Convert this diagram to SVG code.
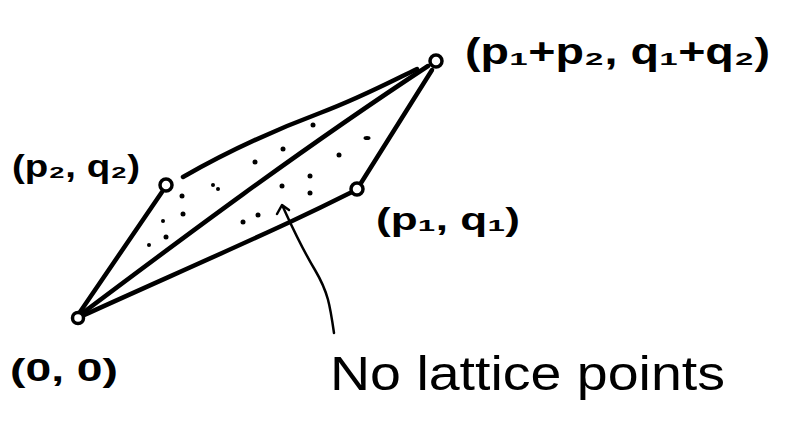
<svg xmlns="http://www.w3.org/2000/svg" width="785" height="438" viewBox="0 0 785 438">
<style>
.edge{fill:none;stroke:#000;stroke-width:4.5;stroke-linecap:round;stroke-linejoin:round}
.ptr{fill:none;stroke:#000;stroke-width:2.5;stroke-linecap:round;stroke-linejoin:round}
.node{fill:#fff;stroke:#000;stroke-width:3.5}
.dot{fill:#000}
.lbl{font-family:"Liberation Sans",Arial,sans-serif;font-weight:bold;fill:#000}
.big{font-family:"Liberation Sans",Arial,sans-serif;fill:#000}
</style>
<rect width="785" height="438" fill="#fff"/>
<g id="connectors">
  <path class="edge" d="M80,312 L162,192"/>
  <path class="edge" d="M80,315 C180,240 300,150 428,66"/>
  <path class="edge" d="M82,316 C150,285 230,250 290,222 C320,208 340,198 352,192"/>
  <path class="edge" d="M183,177 C230,150 280,128 320,113 C360,98 390,82 417,69"/>
  <path class="edge" d="M361,183 L432,70"/>
  <path class="ptr" d="M283,207 C290,222 300,245 315,270 C328,292 330,305 334,333"/>
  <path class="ptr" d="M277,214 L282,205 L289,210"/>
</g>
<g id="dots">
  <circle class="dot" cx="313" cy="125" r="2.5"/>
  <ellipse class="dot" cx="367" cy="138" rx="3.5" ry="2"/>
  <circle class="dot" cx="283" cy="149" r="2.5"/>
  <circle class="dot" cx="255" cy="162" r="2.5"/>
  <circle class="dot" cx="339" cy="155" r="2.5"/>
  <circle class="dot" cx="310" cy="176" r="2.5"/>
  <circle class="dot" cx="213" cy="185" r="2"/>
  <circle class="dot" cx="218" cy="189" r="2"/>
  <circle class="dot" cx="282" cy="186" r="2.5"/>
  <circle class="dot" cx="310" cy="193" r="2.5"/>
  <circle class="dot" cx="182" cy="196" r="2.5"/>
  <circle class="dot" cx="183" cy="214" r="2.5"/>
  <circle class="dot" cx="163" cy="221" r="2"/>
  <circle class="dot" cx="258" cy="215" r="2.5"/>
  <circle class="dot" cx="243" cy="222" r="2.5"/>
  <circle class="dot" cx="166" cy="237" r="2.5"/>
  <circle class="dot" cx="149" cy="245" r="2"/>
</g>
<g id="n-origin">
  <circle class="node" cx="78" cy="318" r="5.5"/>
  <text class="lbl" x="10" y="381" font-size="32" textLength="108" lengthAdjust="spacingAndGlyphs">(0, 0)</text>
</g>
<g id="n-p2q2">
  <circle class="node" cx="166" cy="185" r="6"/>
  <text class="lbl" x="12" y="177" font-size="32" textLength="128" lengthAdjust="spacingAndGlyphs">(p₂, q₂)</text>
</g>
<g id="n-p1q1">
  <circle class="node" cx="357" cy="189" r="6"/>
  <text class="lbl" x="376" y="230" font-size="32" textLength="144" lengthAdjust="spacingAndGlyphs">(p₁, q₁)</text>
</g>
<g id="n-sum">
  <circle class="node" cx="436" cy="61" r="6"/>
  <text class="lbl" x="465" y="64" font-size="36" textLength="305" lengthAdjust="spacingAndGlyphs">(p₁+p₂, q₁+q₂)</text>
</g>
<g id="n-label">
  <text class="big" x="330" y="390" font-size="48" textLength="395" lengthAdjust="spacingAndGlyphs">No lattice points</text>
</g>
</svg>
